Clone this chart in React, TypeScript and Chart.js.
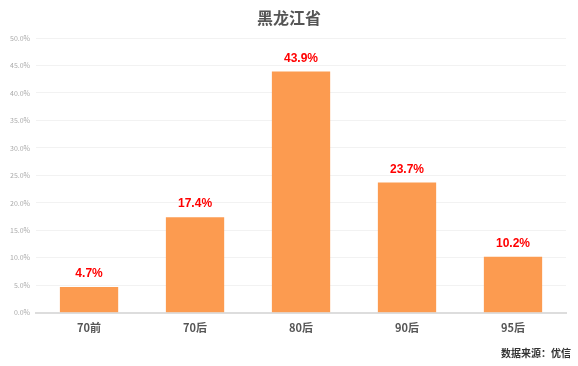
import React, { useEffect, useRef } from "react";
import { Chart, registerables } from "chart.js";

Chart.register(...registerables);

const categories = ["70前", "70后", "80后", "90后", "95后"];
const values = [4.7, 17.4, 43.9, 23.7, 10.2];
const titleText = "黑龙江省";
const sourceText = "数据来源：优信";

const FONT = "'Noto Sans CJK SC', 'Noto Sans', sans-serif";

export default function App() {
  const ref = useRef<HTMLCanvasElement | null>(null);
  useEffect(() => {
    document.body.style.margin = "0";
    if (!ref.current) return;
    const decor = {
      id: "decor",
      afterDatasetsDraw(chart: any) {
        const ctx = chart.ctx;
        const meta = chart.getDatasetMeta(0);
        ctx.save();
        ctx.fillStyle = "#ff0000";
        ctx.font = `bold 12px 'Liberation Sans', Arial, sans-serif`;
        ctx.textAlign = "center";
        ctx.textBaseline = "middle";
        meta.data.forEach((el: any, i: number) => {
          ctx.fillText(values[i].toFixed(1) + "%", el.x, el.y - 13);
        });
        ctx.fillStyle = "#555555";
        ctx.font = `bold 16px ${FONT}`;
        ctx.fillText(titleText, 289, 18);
        ctx.fillStyle = "#333333";
        ctx.font = `bold 10px ${FONT}`;
        ctx.textAlign = "right";
        ctx.fillText(sourceText, 571, 353);
        ctx.restore();
      },
    };
    const chart = new Chart(ref.current, {
      type: "bar",
      data: {
        labels: categories,
        datasets: [
          {
            data: values,
            backgroundColor: "rgba(252,155,80,1)",
            borderWidth: 0,
            categoryPercentage: 0.55,
            barPercentage: 1,
          },
        ],
      },
      options: {
        responsive: false,
        animation: false,
        layout: { padding: { top: 38, right: 12, bottom: 32, left: 4 } },
        plugins: { legend: { display: false }, tooltip: { enabled: false } },
        scales: {
          y: {
            min: 0,
            max: 50,
            ticks: {
              stepSize: 5,
              color: "#aaa",
              font: { size: 7, family: FONT },
              callback: (v: any) => Number(v).toFixed(1) + "%",
              padding: 6,
            },
            grid: { color: "#f2f2f2", drawTicks: false },
            border: { display: false },
          },
          x: {
            ticks: {
              color: "#555",
              font: { size: 11, weight: "bold", family: FONT },
              padding: 0,
            },
            grid: { display: false },
            border: { color: "#dddddd", width: 2 },
          },
        },
      },
      plugins: [decor],
    });
    return () => chart.destroy();
  }, []);
  return <canvas ref={ref} width={578} height={366} style={{ display: "block" }} />;
}
